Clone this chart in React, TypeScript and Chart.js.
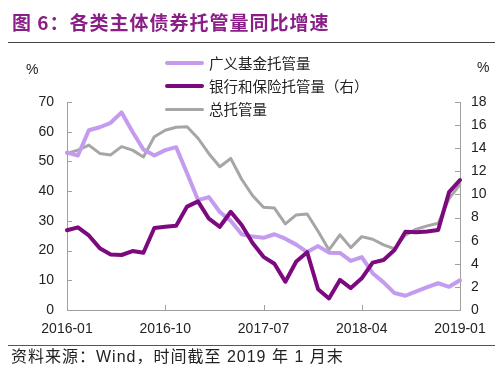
import React, { useEffect, useRef } from 'react';
import { Chart, registerables } from 'chart.js';

Chart.register(...registerables);

const months = [
  '2016-01', '2016-02', '2016-03', '2016-04', '2016-05', '2016-06', '2016-07', '2016-08', '2016-09',
  '2016-10', '2016-11', '2016-12', '2017-01', '2017-02', '2017-03', '2017-04', '2017-05', '2017-06',
  '2017-07', '2017-08', '2017-09', '2017-10', '2017-11', '2017-12', '2018-01', '2018-02', '2018-03',
  '2018-04', '2018-05', '2018-06', '2018-07', '2018-08', '2018-09', '2018-10', '2018-11', '2018-12',
  '2019-01',
];
const xTickLabels = ['2016-01', '2016-10', '2017-07', '2018-04', '2019-01'];

// 广义基金托管量 同比 (%), left axis
const fundGrowth = [
  53, 52, 60.5, 61.5, 63, 66.5, 60, 54, 52, 53.8, 54.8, 46, 37, 38, 33, 30, 25.5, 24.7, 24.3,
  25.5, 24, 22, 19.5, 21.5, 19.3, 19.2, 16.5, 17.8, 12.4, 9.3, 5.7, 4.8, 6.3, 7.7, 9, 7.8, 10,
];
// 银行和保险托管量 同比 (%), right axis
const bankInsGrowth = [
  6.9, 7.15, 6.45, 5.35, 4.8, 4.76, 5.1, 4.95, 7.1, 7.2, 7.3, 8.95, 9.4, 7.9, 7.2, 8.5, 7.35, 5.8,
  4.6, 4.0, 2.45, 4.2, 5.0, 1.8, 1.0, 2.6, 1.9, 2.74, 4.1, 4.33, 5.19, 6.77, 6.72, 6.8, 6.92, 10.2,
  11.25,
];
// 总托管量 同比 (%), left axis
const totalGrowth = [
  52.7, 53.8, 55.5, 52.7, 52.2, 55, 53.8, 51.5, 58.3, 60.5, 61.5, 61.7, 57.8, 52.6, 48.2, 51, 44,
  38.5, 34.6, 34.3, 29, 32, 32.3, 26.5, 20.2, 25.3, 21, 24.7, 23.8, 21.9, 20.6, 25.2, 27.2, 28.3,
  29.2, 37.5, 42.3,
];

const seriesNames = ['广义基金托管量', '银行和保险托管量（右）', '总托管量'];
const seriesColors = ['#C49BEE', '#7C0A7E', '#A6A6A6'];

const leftMin = 0;
const leftMax = 70;
const leftStep = 10;
const rightMin = 0;
const rightMax = 18;
const rightStep = 2;

const AXIS_COLOR = '#A0A0A0';
const TEXT_COLOR = '#222222';
const FONT = '"Liberation Sans", Arial, "Noto Sans CJK SC", sans-serif';

const innerTicks = {
  id: 'innerTicks',
  afterDraw(chart: any) {
    const ctx = chart.ctx;
    const { left, right, bottom } = chart.chartArea;
    ctx.save();
    ctx.strokeStyle = AXIS_COLOR;
    ctx.lineWidth = 1;
    const yL = chart.scales.yL;
    yL.ticks.forEach((_t: any, i: number) => {
      const y = Math.round(yL.getPixelForTick(i)) + 0.5;
      ctx.beginPath();
      ctx.moveTo(left, y);
      ctx.lineTo(left + 5, y);
      ctx.stroke();
    });
    const yR = chart.scales.yR;
    yR.ticks.forEach((_t: any, i: number) => {
      const y = Math.round(yR.getPixelForTick(i)) + 0.5;
      ctx.beginPath();
      ctx.moveTo(right, y);
      ctx.lineTo(right - 5, y);
      ctx.stroke();
    });
    const x = chart.scales.x;
    xTickLabels.forEach((lab) => {
      const idx = months.indexOf(lab);
      const px = Math.round(x.getPixelForValue(idx)) + 0.5;
      ctx.beginPath();
      ctx.moveTo(px, bottom);
      ctx.lineTo(px, bottom - 5);
      ctx.stroke();
    });
    ctx.restore();
  },
};

function ChartCanvas() {
  const ref = useRef<HTMLCanvasElement | null>(null);
  useEffect(() => {
    if (!ref.current) return;
    const chart = new Chart(ref.current, {
      type: 'line',
      data: {
        labels: months,
        datasets: [
          {
            label: seriesNames[1],
            data: bankInsGrowth,
            yAxisID: 'yR',
            borderColor: seriesColors[1],
            borderWidth: 4,
            order: 0,
          },
          {
            label: seriesNames[0],
            data: fundGrowth,
            yAxisID: 'yL',
            borderColor: seriesColors[0],
            borderWidth: 4,
            order: 1,
          },
          {
            label: seriesNames[2],
            data: totalGrowth,
            yAxisID: 'yL',
            borderColor: seriesColors[2],
            borderWidth: 3,
            order: 2,
          },
        ],
      },
      options: {
        responsive: false,
        animation: false,
        events: [],
        layout: { padding: { top: 102, left: 0, right: 0, bottom: 0 } },
        elements: {
          point: { radius: 0 },
          line: { tension: 0, borderJoinStyle: 'round', borderCapStyle: 'round' },
        },
        plugins: { legend: { display: false }, tooltip: { enabled: false }, title: { display: false } },
        scales: {
          x: {
            type: 'category',
            offset: false,
            grid: { display: true, drawOnChartArea: false, drawTicks: false },
            border: { display: true, color: AXIS_COLOR, width: 1 },
            ticks: {
              autoSkip: false,
              maxRotation: 0,
              minRotation: 0,
              padding: 11,
              color: TEXT_COLOR,
              font: { family: FONT, size: 14 },
              callback: (_v: any, i: number) => (xTickLabels.includes(months[i]) ? months[i] : ''),
            },
            afterFit: (s: any) => {
              s.height = 64;
            },
          },
          yL: {
            type: 'linear',
            position: 'left',
            min: leftMin,
            max: leftMax,
            grid: { display: true, drawOnChartArea: false, drawTicks: false },
            border: { display: true, color: AXIS_COLOR, width: 1 },
            ticks: { stepSize: leftStep, padding: 13, color: TEXT_COLOR, font: { family: FONT, size: 14 } },
            afterFit: (s: any) => {
              s.width = 67;
            },
          },
          yR: {
            type: 'linear',
            position: 'right',
            min: rightMin,
            max: rightMax,
            grid: { display: true, drawOnChartArea: false, drawTicks: false },
            border: { display: true, color: AXIS_COLOR, width: 1 },
            ticks: { stepSize: rightStep, padding: 11, color: TEXT_COLOR, font: { family: FONT, size: 14 } },
            afterFit: (s: any) => {
              s.width = 40;
            },
          },
        },
      },
      plugins: [innerTicks],
    } as any);
    return () => chart.destroy();
  }, []);
  return (
    <canvas
      ref={ref}
      width={500}
      height={374}
      style={{ position: 'absolute', left: 0, top: 0, width: 500, height: 374, display: 'block' }}
    />
  );
}

export default function App() {
  const legendRows = [
    { name: seriesNames[0], color: seriesColors[0], top: 55, lw: 4 },
    { name: seriesNames[1], color: seriesColors[1], top: 78, lw: 4 },
    { name: seriesNames[2], color: seriesColors[2], top: 101, lw: 3 },
  ];
  return (
    <div
      style={{
        position: 'absolute',
        left: 0,
        top: 0,
        width: 500,
        height: 374,
        background: '#ffffff',
        overflow: 'hidden',
        fontFamily: FONT,
        color: TEXT_COLOR,
      }}
    >
      <ChartCanvas />
      <div
        style={{
          position: 'absolute',
          left: 12,
          top: 9,
          fontSize: 19,
          fontWeight: 700,
          color: '#8A1F87',
          whiteSpace: 'nowrap',
          letterSpacing: 1,
          fontFamily: '"Noto Sans CJK SC", "Liberation Sans", sans-serif',
          lineHeight: '26px',
        }}
      >
        图 6：各类主体债券托管量同比增速
      </div>
      <div style={{ position: 'absolute', left: 8, top: 42, width: 487, height: 1, background: '#444' }} />
      <div style={{ position: 'absolute', left: 26, top: 61, fontSize: 14, lineHeight: '16px' }}>%</div>
      <div style={{ position: 'absolute', left: 477, top: 59, fontSize: 14, lineHeight: '16px' }}>%</div>
      {legendRows.map((r) => (
        <div
          key={r.name}
          style={{ position: 'absolute', left: 165, top: r.top, height: 16, display: 'flex', alignItems: 'center' }}
        >
          <div style={{ width: 39, height: r.lw, background: r.color, borderRadius: 2 }} />
          <div
            style={{
              marginLeft: 5,
              fontSize: 14.5,
              lineHeight: '16px',
              whiteSpace: 'nowrap',
              fontFamily: '"Noto Sans CJK SC", "Liberation Sans", sans-serif',
            }}
          >
            {r.name}
          </div>
        </div>
      ))}
      <div style={{ position: 'absolute', left: 8, top: 345, width: 487, height: 1, background: '#555' }} />
      <div
        style={{
          position: 'absolute',
          left: 11,
          top: 347,
          fontSize: 16,
          lineHeight: '20px',
          whiteSpace: 'nowrap',
          letterSpacing: 1,
          fontFamily: '"Liberation Sans", "Noto Sans CJK SC", sans-serif',
        }}
      >
        资料来源：Wind，时间截至 2019 年 1 月末
      </div>
    </div>
  );
}
